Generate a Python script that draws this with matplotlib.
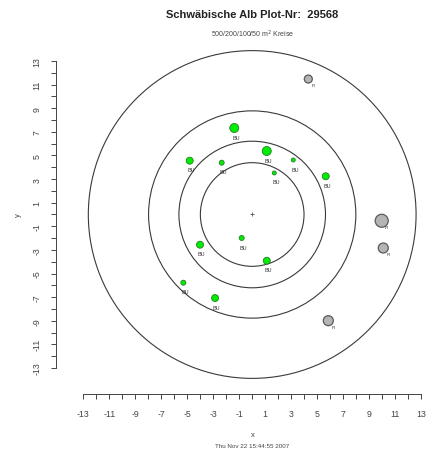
import matplotlib
matplotlib.use("Agg")
import matplotlib.pyplot as plt
from matplotlib.patches import Ellipse
import numpy as np

plt.rcParams['font.family'] = ['Liberation Sans', 'DejaVu Sans']

title = "Schwäbische Alb Plot-Nr:  29568"
subtitle = "500/200/100/50 m$^2$ Kreise"
stamp = "Thu Nov 22 15:44:55 2007"

# sample circle areas in m^2
areas = [500, 200, 100, 50]

# beech (BU)
bu_x = [-1.38, 1.12, -4.81, -2.35, 3.16, 1.70, 5.66, -0.81, -4.02, 1.12, -5.30, -2.86]
bu_y = [7.33, 5.38, 4.56, 4.39, 4.62, 3.52, 3.24, -1.99, -2.56, -3.92, -5.78, -7.08]
bu_d = [4.5, 4.5, 3.5, 2.5, 2.0, 2.0, 3.5, 2.5, 3.5, 3.5, 2.5, 3.5]

# spruce (FI)
fi_x = [4.32, 9.97, 10.09, 5.86]
fi_y = [11.48, -0.53, -2.84, -9.00]
fi_d = [4.0, 6.5, 5.0, 5.0]

ticks = np.arange(-13, 14)
tick_labels = [str(t) if t % 2 else "" for t in ticks]

W, H = 428, 452
fig = plt.figure(figsize=(W / 100, H / 100), dpi=100)
# axes box in pixels
left_px, right_px, top_px, bot_px = 56, 428, 40, 395
cx, cy = 252.2, 215.5
sx, sy = 12.99, 11.8
ax = fig.add_axes([left_px / W, 1 - bot_px / H, (right_px - left_px) / W, (bot_px - top_px) / H])
ax.set_xlim((left_px - cx) / sx, (right_px - cx) / sx)
ax.set_ylim((cy - bot_px) / sy, (cy - top_px) / sy)

# circles are round on the page, radius in x units
for a in areas:
    r = np.sqrt(a / np.pi)
    ax.add_patch(Ellipse((0, 0), 2 * r, 2 * r * sx / sy, fill=False,
                         edgecolor='#3a3a3a', lw=0.8))

ax.plot(0, 0, marker='+', color='#555555', ms=3, mew=0.6)

k = 2 * 0.72  # radius px -> marker diameter pt
ax.scatter(bu_x, bu_y, s=[(d * k) ** 2 for d in bu_d], c='#00ee00',
           edgecolors='#2a7a2a', linewidths=0.6, zorder=3)
ax.scatter(fi_x, fi_y, s=[(d * k) ** 2 for d in fi_d], c='#b4b4b4',
           edgecolors='#5a5a5a', linewidths=0.9, zorder=3)

for x, y in zip(bu_x, bu_y):
    ax.annotate("BU", (x, y), xytext=(1.2, -6.5), textcoords='offset points',
                ha='center', va='center', fontsize=4, color='#333333')
for x, y in zip(fi_x, fi_y):
    ax.annotate("FI", (x, y), xytext=(3.5, -4.5), textcoords='offset points',
                ha='center', va='center', fontsize=3.2, color='#333333')

for s in ['top', 'right']:
    ax.spines[s].set_visible(False)
ax.spines['left'].set_bounds(-13, 13)
ax.spines['bottom'].set_bounds(-13, 13)
for s in ['left', 'bottom']:
    ax.spines[s].set_color('#444444')
    ax.spines[s].set_linewidth(0.7)

ax.set_xticks(ticks)
ax.set_xticklabels(tick_labels)
ax.set_yticks(ticks)
ax.set_yticklabels(tick_labels, rotation=90, va='center')
ax.tick_params(length=3.5, width=0.7, color='#444444', labelsize=6.3,
               labelcolor='#444444', pad=7)

fig.text(253 / W, 1 - 436 / H, "x", ha='center', va='center',
         fontsize=5.5, color='#444444')
fig.text(18 / W, 1 - 215 / H, "y", ha='center', va='center', rotation=90,
         fontsize=5.5, color='#444444')

fig.text(cx / W, 1 - 15 / H, title, ha='center', va='center',
         fontsize=8, fontweight='bold', color='#222222')
fig.text(cx / W, 1 - 34 / H, subtitle, ha='center', va='center',
         fontsize=5, color='#444444')
fig.text(cx / W, 1 - 447 / H, stamp, ha='center', va='center',
         fontsize=4.5, color='#444444')

fig.savefig("out.png", dpi=100)
